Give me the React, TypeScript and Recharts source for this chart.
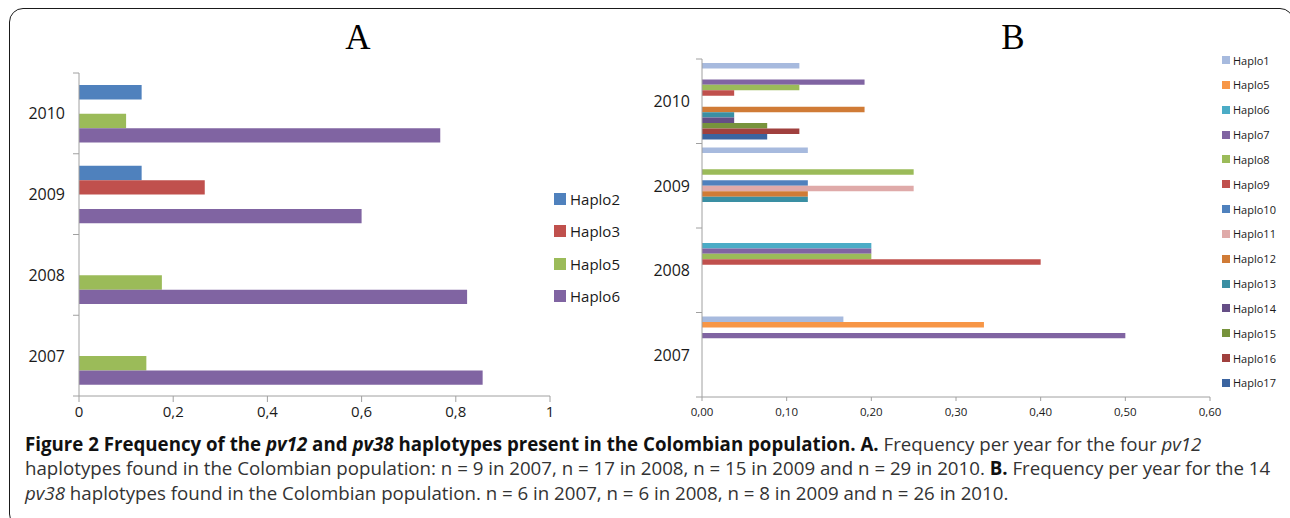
import React from 'react';
import { BarChart, Bar, XAxis, YAxis, Legend } from 'recharts';

// categories, top to bottom as in the figure
const years = ['2010', '2009', '2008', '2007'];

// A: pv12 haplotype frequencies, values follow the years array
const pv12Names = ['Haplo2', 'Haplo3', 'Haplo5', 'Haplo6'];
const pv12Colors = ['#4F81BD', '#C0504D', '#9BBB59', '#8064A2'];
const pv12Haplo2 = [0.133, 0.133, 0, 0];
const pv12Haplo3 = [0, 0.267, 0, 0];
const pv12Haplo5 = [0.1, 0, 0.176, 0.143];
const pv12Haplo6 = [0.767, 0.6, 0.824, 0.857];
const pv12Ticks = [0, 0.2, 0.4, 0.6, 0.8, 1];

// B: pv38 haplotype frequencies, values follow the years array
const pv38Names = [
  'Haplo1', 'Haplo5', 'Haplo6', 'Haplo7', 'Haplo8', 'Haplo9', 'Haplo10',
  'Haplo11', 'Haplo12', 'Haplo13', 'Haplo14', 'Haplo15', 'Haplo16', 'Haplo17',
];
const pv38Colors = [
  '#A7BADE', '#F79646', '#4BACC6', '#8064A2', '#9BBB59', '#C0504D', '#4F81BD',
  '#DFAAA9', '#D07B36', '#3A8FA3', '#654E86', '#77933C', '#A0403E', '#3B64A0',
];
const pv38Haplo1 = [0.115, 0.125, 0, 0.167];
const pv38Haplo5 = [0, 0, 0, 0.333];
const pv38Haplo6 = [0, 0, 0.2, 0];
const pv38Haplo7 = [0.192, 0, 0.2, 0.5];
const pv38Haplo8 = [0.115, 0.25, 0.2, 0];
const pv38Haplo9 = [0.038, 0, 0.4, 0];
const pv38Haplo10 = [0, 0.125, 0, 0];
const pv38Haplo11 = [0, 0.25, 0, 0];
const pv38Haplo12 = [0.192, 0.125, 0, 0];
const pv38Haplo13 = [0.038, 0.125, 0, 0];
const pv38Haplo14 = [0.038, 0, 0, 0];
const pv38Haplo15 = [0.077, 0, 0, 0];
const pv38Haplo16 = [0.115, 0, 0, 0];
const pv38Haplo17 = [0.077, 0, 0, 0];
const pv38Ticks = [0, 0.1, 0.2, 0.3, 0.4, 0.5, 0.6];

const pv12Series = [pv12Haplo2, pv12Haplo3, pv12Haplo5, pv12Haplo6];
const pv38Series = [
  pv38Haplo1, pv38Haplo5, pv38Haplo6, pv38Haplo7, pv38Haplo8, pv38Haplo9, pv38Haplo10,
  pv38Haplo11, pv38Haplo12, pv38Haplo13, pv38Haplo14, pv38Haplo15, pv38Haplo16, pv38Haplo17,
];

const buildRows = (names: string[], series: number[][]) =>
  years.map((year, i) => {
    const row: Record<string, string | number> = { year };
    names.forEach((n, k) => (row[n] = series[k][i]));
    return row;
  });

const pv12Data = buildRows(pv12Names, pv12Series);
const pv38Data = buildRows(pv38Names, pv38Series);

const AXIS = '#A0A0A0';
const INK = '#1a1a1a';
const FONT = '"Open Sans", "Noto Sans", sans-serif';

function YearTick(props: any) {
  const { x, y, payload, index, gap, half } = props;
  const ax = x + gap;
  const last = index === years.length - 1;
  return (
    <g>
      <line x1={ax - 6} x2={ax} y1={y - half} y2={y - half} stroke={AXIS} />
      {last && <line x1={ax - 6} x2={ax} y1={y + half} y2={y + half} stroke={AXIS} />}
      <text x={x} y={y} textAnchor="end" dominantBaseline="central" fontSize={16} fill={INK}>
        {payload.value}
      </text>
    </g>
  );
}

function makeLegend(names: string[], colors: string[], rowH: number, box: number, fontSize: number, textGap: number) {
  return () => (
    <div style={{ fontFamily: FONT, color: INK }}>
      {names.map((n, i) => (
        <div key={n} style={{ height: rowH, display: 'flex', alignItems: 'center', fontSize, whiteSpace: 'nowrap' }}>
          <span style={{ width: box, height: box, background: colors[i], display: 'inline-block', marginRight: textGap }} />
          {n}
        </div>
      ))}
    </div>
  );
}

const PanelTitle = ({ children, x }: { children: string; x: number }) => (
  <div
    style={{
      position: 'absolute', left: x - 40, width: 80, top: 16, textAlign: 'center',
      fontFamily: '"Liberation Serif", serif', fontSize: 35, lineHeight: '44px', color: '#000',
    }}
  >
    {children}
  </div>
);

export default function App() {
  const aPlotH = 396 - 73;
  const bPlotH = 397 - 59;
  return (
    <div style={{ position: 'absolute', left: 0, top: 0, width: 1290, height: 518, background: '#fff', overflow: 'hidden', fontFamily: FONT }}>
      <div
        style={{
          position: 'absolute', left: 9, top: 8, width: 1285, height: 520,
          border: '1.5px solid #1a1a1a', borderRadius: 14, boxSizing: 'border-box',
        }}
      />
      <PanelTitle x={358}>A</PanelTitle>
      <PanelTitle x={1013}>B</PanelTitle>

      <div style={{ position: 'absolute', left: 0, top: 0 }}>
        <BarChart
          width={640}
          height={440}
          data={pv12Data}
          layout="vertical"
          margin={{ top: 73, right: 90, bottom: 14, left: 0 }}
          barGap={0}
          barSize={14.4}
        >
          <XAxis
            type="number"
            domain={[0, 1]}
            ticks={pv12Ticks}
            height={30}
            tickSize={6}
            tickMargin={4}
            stroke={AXIS}
            tick={{ fill: INK, fontSize: 15 }}
            tickFormatter={(v: number) => String(v).replace('.', ',')}
          />
          <YAxis
            type="category"
            dataKey="year"
            width={79}
            tickSize={0}
            tickMargin={14}
            stroke={AXIS}
            tickLine={false}
            tick={(p: any) => <YearTick {...p} gap={14} half={aPlotH / years.length / 2} />}
          />
          <Legend
            layout="vertical"
            align="center"
            verticalAlign="middle"
            wrapperStyle={{ left: 554, top: 183, width: 80 }}
            content={makeLegend(pv12Names, pv12Colors, 32.3, 12, 15, 4)}
          />
          {pv12Names.map((n, i) => (
            <Bar key={n} dataKey={n} name={n} fill={pv12Colors[i]} isAnimationActive={false} />
          ))}
        </BarChart>
      </div>

      <div style={{ position: 'absolute', left: 640, top: 0 }}>
        <BarChart
          width={650}
          height={440}
          data={pv38Data}
          layout="vertical"
          margin={{ top: 59, right: 80, bottom: 13, left: 0 }}
          barGap={0}
          barSize={5.46}
        >
          <XAxis
            type="number"
            domain={[0, 0.6]}
            ticks={pv38Ticks}
            height={30}
            tickSize={4}
            tickMargin={7}
            stroke={AXIS}
            tick={{ fill: INK, fontSize: 11.5 }}
            tickFormatter={(v: number) => v.toFixed(2).replace('.', ',')}
          />
          <YAxis
            type="category"
            dataKey="year"
            width={62}
            tickSize={0}
            tickMargin={12}
            stroke={AXIS}
            tickLine={false}
            tick={(p: any) => <YearTick {...p} gap={12} half={bPlotH / years.length / 2} />}
          />
          <Legend
            layout="vertical"
            align="center"
            verticalAlign="middle"
            wrapperStyle={{ left: 582, top: 47.6, width: 66 }}
            content={makeLegend(pv38Names, pv38Colors, 24.85, 8, 11, 3)}
          />
          {pv38Names.map((n, i) => (
            <Bar key={n} dataKey={n} name={n} fill={pv38Colors[i]} isAnimationActive={false} />
          ))}
        </BarChart>
      </div>

      <div
        style={{
          position: 'absolute', left: 25, top: 431.5, fontSize: 18.7, lineHeight: '24.5px',
          color: '#333', fontFamily: FONT, whiteSpace: 'nowrap',
        }}
      >
        <div>
          <b style={{ color: '#111' }}>
            Figure 2 Frequency of the <i>pv12</i> and <i>pv38</i> haplotypes present in the Colombian population. A.
          </b>{' '}
          Frequency per year for the four <i>pv12</i>
        </div>
        <div>
          haplotypes found in the Colombian population: n = 9 in 2007, n = 17 in 2008, n = 15 in 2009 and n = 29 in 2010.{' '}
          <b style={{ color: '#111' }}>B.</b> Frequency per year for the 14
        </div>
        <div>
          <i>pv38</i> haplotypes found in the Colombian population. n = 6 in 2007, n = 6 in 2008, n = 8 in 2009 and n = 26 in 2010.
        </div>
      </div>
    </div>
  );
}
